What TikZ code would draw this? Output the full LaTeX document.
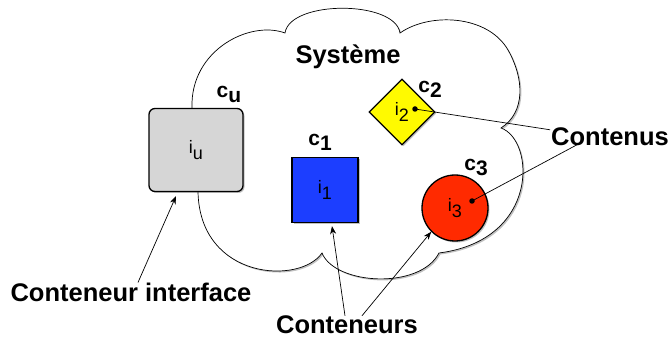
\documentclass[tikz,border=0pt]{standalone}
\usepackage{fontspec}
\setmainfont{Liberation Sans}
\usetikzlibrary{shapes.geometric,shadows,arrows.meta}
\definecolor{boxgray}{RGB}{214,214,214}
\definecolor{boxblue}{RGB}{28,62,255}
\definecolor{boxyellow}{RGB}{255,250,0}
\definecolor{boxred}{RGB}{255,42,0}
\newcommand\subt[1]{\raisebox{-0.45ex}{#1}}
\newcommand\isub[1]{\raisebox{-0.65ex}{#1}}
\tikzset{
  shad/.style={drop shadow={shadow xshift=1.5pt,shadow yshift=-1.5pt,opacity=0.35,fill=black!70}},
  cloudline/.style={draw=black,line width=0.7pt,fill=white,shad},
  compo/.style={draw=black,line width=1.3pt,inner sep=0pt,shad,font=\fontsize{18}{18}\selectfont},
  clabel/.style={font=\fontsize{21}{21}\selectfont\bfseries,inner sep=0pt},
  biglabel/.style={font=\fontsize{25.5}{27}\selectfont\bfseries,inner sep=1pt},
  arr/.style={line width=0.7pt,-{Stealth[length=8pt,width=6pt]}},
  pointer/.style={line width=0.7pt},
  dotnode/.style={circle,fill=black,inner sep=0pt,minimum size=5.5pt}
}
\begin{document}
\begin{tikzpicture}[x=1pt,y=-1pt]
\useasboundingbox (0,0) rectangle (670,339);
% cloud
\path[cloudline] (192,108) .. controls (190,50) and (250,20) .. (285,33)
  .. controls (290,0) and (395,0) .. (400,33)
  .. controls (430,12) and (488,15) .. (508,50)
  .. controls (524,78) and (526,112) .. (501,128)
  .. controls (535,140) and (540,240) .. (439,253)
  .. controls (420,290) and (335,285) .. (322,253)
  .. controls (300,285) and (200,280) .. (198,192) -- cycle;
\node[biglabel] (sys) at (348,57) {Système};
% components
\node[compo,rectangle,rounded corners=6pt,fill=boxgray,minimum width=94pt,minimum height=83pt] (iface) at (196,150) {i\isub{u}};
\node[compo,rectangle,fill=boxblue,minimum width=66pt,minimum height=65pt] (c1) at (325,190) {i\isub{1}};
\node[compo,diamond,fill=boxyellow,minimum width=66pt,minimum height=66pt] (c2) at (402,112) {i\isub{2}};
\node[compo,circle,fill=boxred,minimum size=66pt] (c3) at (455,208) {i\isub{3}};
% container labels
\node[clabel] (lu) at (229,94) {c\subt{u}};
\node[clabel] (l1) at (320,142) {c\subt{1}};
\node[clabel] (l2) at (430,89) {c\subt{2}};
\node[clabel] (l3) at (476,167) {c\subt{3}};
% dots
\node[dotnode] (dot2) at (415,109) {};
\node[dotnode] (dot3) at (472,201) {};
% big labels
\node[biglabel] (contenus) at (610,137) {Contenus};
\node[biglabel] (ci) at (131,292) {Conteneur interface};
\node[biglabel] (cont) at (347,325) {Conteneurs};
% connectors
\draw[pointer] ([xshift=0pt,yshift=-3pt]contenus.north west) -- (dot2.center);
\draw[pointer] ([xshift=28pt,yshift=3pt]contenus.south west) -- (dot3.center);
\draw[arr] ([xshift=7pt,yshift=-1pt]ci.north) -- ([xshift=-20pt,yshift=-4pt]iface.south);
\draw[arr] ([xshift=-2pt,yshift=-1pt]cont.north) -- ([xshift=7pt,yshift=-3pt]c1.south);
\draw[arr] ([xshift=15pt,yshift=-1pt]cont.north) -- (c3.south west);
\end{tikzpicture}
\end{document}
